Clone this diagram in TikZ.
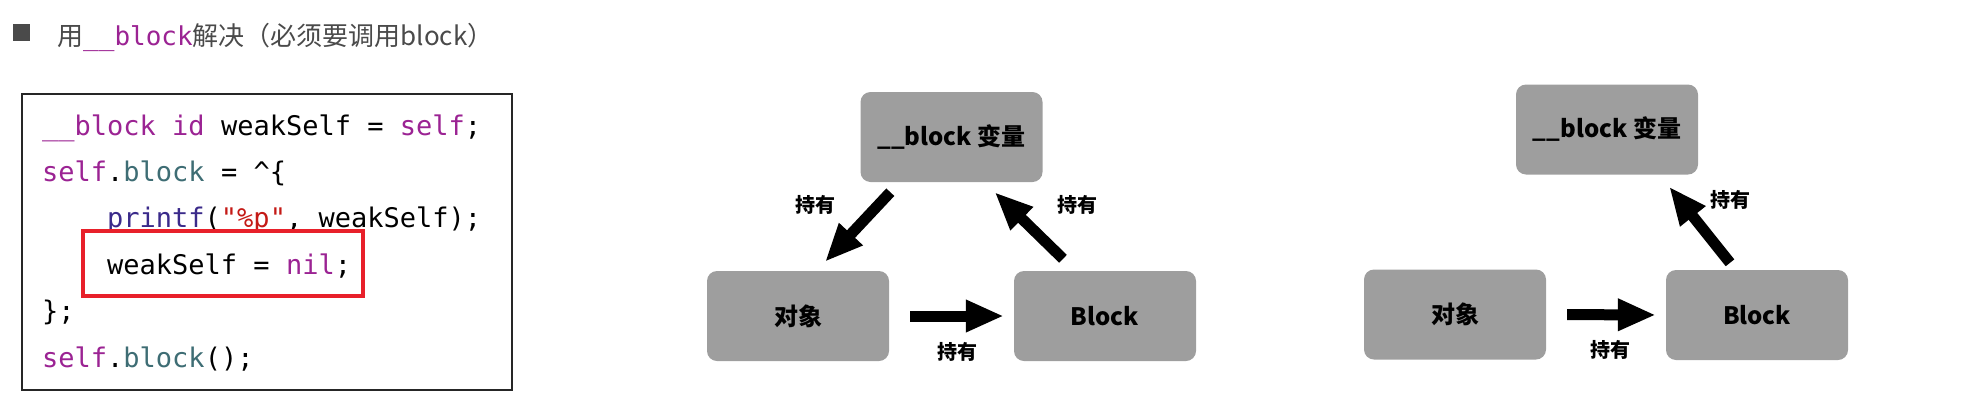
\documentclass[tikz,border=0pt]{standalone}
\usepackage{fontspec}
\usepackage[dvipsnames]{xcolor}
\usepackage{tikz}
\usetikzlibrary{arrows.meta}

\setmonofont{DejaVu Sans Mono}
\newfontfamily\cjk{Noto Sans CJK SC}

\definecolor{kwpurple}{HTML}{9B2393}
\definecolor{proptea}{HTML}{3E6D74}
\definecolor{fnblue}{HTML}{3A2A8A}
\definecolor{strred}{HTML}{C41A16}
\definecolor{hlred}{HTML}{E8202A}
\definecolor{boxgray}{HTML}{9E9E9E}
\definecolor{titlegray}{HTML}{4A4A4A}

\newcommand{\codekw}[1]{\textcolor{kwpurple}{#1}}
\newcommand{\codeprop}[1]{\textcolor{proptea}{#1}}
\newcommand{\codefn}[1]{\textcolor{fnblue}{#1}}
\newcommand{\codestr}[1]{\textcolor{strred}{#1}}

\begin{document}
\begin{tikzpicture}[x=1pt, y=-1pt,
    box/.style={fill=boxgray, rounded corners=10pt, minimum width=182pt, minimum height=90pt, font=\cjk\bfseries\fontsize{24}{28}\selectfont},
    hold/.style={font=\cjk\bfseries\fontsize{20}{24}\selectfont},
    fat/.style={line width=11pt, -{Triangle[length=38pt, width=30pt]}},
    codeline/.style={anchor=base west, inner sep=0pt, font=\ttfamily\fontsize{27}{30}\selectfont}]
    \useasboundingbox (0, 0) rectangle (1984, 400);

    % title
    \fill[titlegray] (13, 24) rectangle (30, 41);
    \node[anchor=base west, inner sep=0pt, text=titlegray, font=\cjk\fontsize{26}{30}\selectfont] (title) at (57, 45)
        {用\textcolor{kwpurple}{\ttfamily\_\_block}解决（必须要调用block）};

    % code
    \draw[line width=2pt, color=black!85] (22, 94) rectangle (512, 390);
    \node[codeline] (l1) at (42, 135) {\codekw{\_\_block} \codekw{id} weakSelf = \codekw{self};};
    \node[codeline] (l2) at (42, 181.4) {\codekw{self}.\codeprop{block} = \textasciicircum\{};
    \node[codeline] (l3) at (107, 227.8) {\codefn{printf}(\codestr{"\%p"}, weakSelf);};
    \node[codeline] (l4) at (107, 274.2) {weakSelf = \codekw{nil};};
    \node[codeline] (l5) at (42, 320.6) {\};};
    \node[codeline] (l6) at (42, 367) {\codekw{self}.\codeprop{block}();};
    \draw[line width=3.5pt, color=hlred] (83, 231) rectangle (363, 296);

    % cycle
    \node[box] (var1) at (951.5, 137) {\_\_block 变量};
    \node[box] (obj1) at (798, 316) {对象};
    \node[box] (blk1) at (1105, 316) {Block};
    \draw[fat] ([xshift=30pt, yshift=-10pt]var1.south west) -- ([xshift=27pt, yshift=9pt]obj1.north);
    \draw[fat] ([xshift=-42pt, yshift=12pt]blk1.north) -- ([xshift=-48pt, yshift=-10pt]var1.south east);
    \draw[fat, shorten <=21pt, shorten >=10pt] (obj1.east) -- (blk1.west);
    \node[hold] (h1) at (815, 205) {持有};
    \node[hold] (h2) at (1077, 205) {持有};
    \node[hold] (h3) at (957, 352) {持有};

    % cycle broken
    \node[box] (var2) at (1607, 129.5) {\_\_block 变量};
    \node[box] (obj2) at (1455, 314.5) {对象};
    \node[box] (blk2) at (1757, 315) {Block};
    \draw[fat] ([xshift=-27pt, yshift=7pt]blk2.north) -- ([xshift=-29pt, yshift=-12pt]var2.south east);
    \draw[fat, shorten <=21pt, shorten >=10pt] (obj2.east) -- (blk2.west);
    \node[hold] (h4) at (1730, 200) {持有};
    \node[hold] (h5) at (1610, 350) {持有};
\end{tikzpicture}
\end{document}
